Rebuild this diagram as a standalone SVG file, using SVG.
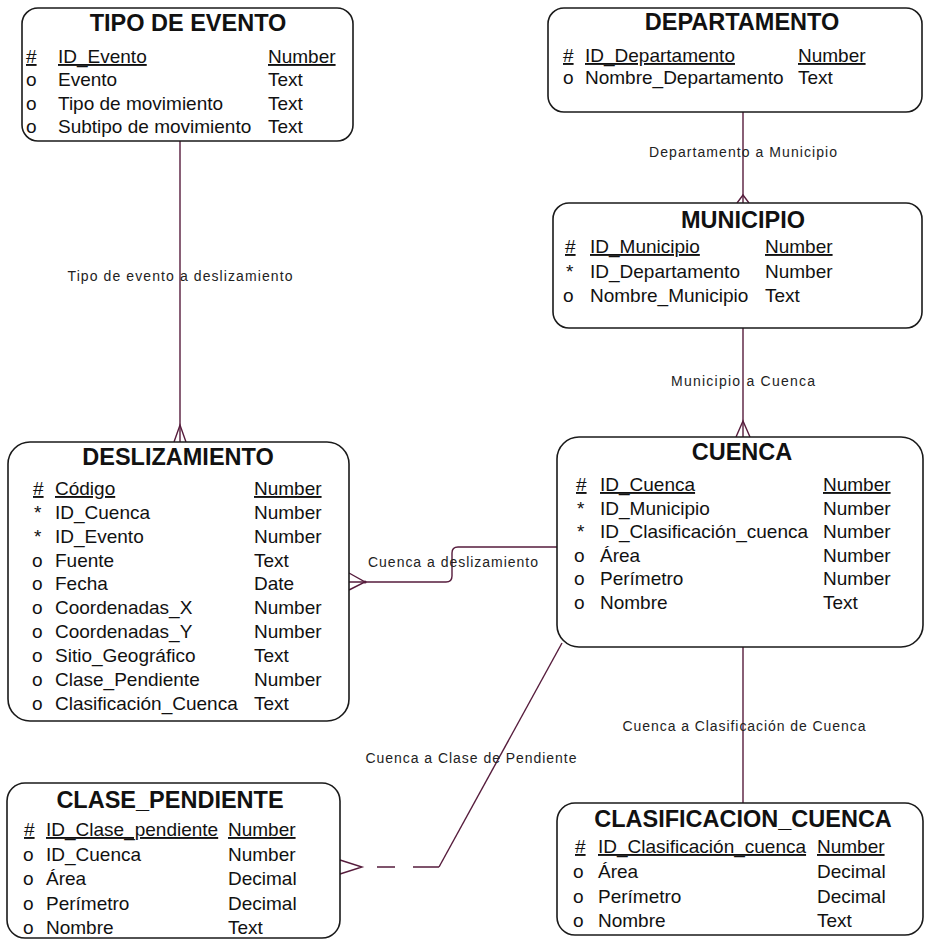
<svg xmlns="http://www.w3.org/2000/svg" width="926" height="941" viewBox="0 0 926 941">
<style>
.bg{fill:#ffffff}
.box{fill:#ffffff;stroke:#1a1a1a;stroke-width:1.6}
.title{font-family:"Liberation Sans",Arial,sans-serif;font-weight:bold;font-size:23.5px;text-anchor:middle;fill:#111}
.row{font-family:"Liberation Sans",Arial,sans-serif;font-size:19px;fill:#111}
.u{text-decoration:underline}
.lbl{font-family:"Liberation Sans",Arial,sans-serif;font-size:14px;text-anchor:middle;fill:#222}
.conn{stroke:#561c3c;stroke-width:1.4;fill:none}
</style>
<rect class="bg" x="0" y="0" width="926" height="941"/>

<g id="connectors">
  <!-- Tipo de evento a deslizamiento -->
  <path class="conn" d="M180,141 V442"/>
  <path class="conn" d="M174,442 L180,425 L186,442"/>
  <!-- Departamento a Municipio -->
  <path class="conn" d="M743,112 V203"/>
  <path class="conn" d="M737,203 L743,195 L749,203"/>
  <!-- Municipio a Cuenca -->
  <path class="conn" d="M743,328 V437"/>
  <path class="conn" d="M736,437 L743,421 L750,437"/>
  <!-- Cuenca a deslizamiento -->
  <path class="conn" d="M349,582 H446 Q452,582 452,576 V553 Q452,547 458,547 H557"/>
  <path class="conn" d="M349,573 L365,582 L349,590"/>
  <circle cx="365" cy="582" r="1.6" fill="#561c3c"/>
  <!-- Cuenca a Clase de Pendiente -->
  <path class="conn" d="M439,867 L562,643"/>
  <path class="conn" d="M439,867 H362" stroke-dasharray="26 18 18 15"/>
  <path class="conn" d="M340,860 L362,867 L340,874"/>
  <!-- Cuenca a Clasificación de Cuenca -->
  <path class="conn" d="M743,647 V803"/>
</g>

<g id="labels">
  <text class="lbl" x="180" y="281" textLength="225">Tipo de evento a deslizamiento</text>
  <text class="lbl" x="743" y="157" textLength="188">Departamento a Municipio</text>
  <text class="lbl" x="743" y="386" textLength="144">Municipio a Cuenca</text>
  <text class="lbl" x="453" y="567" textLength="170">Cuenca a deslizamiento</text>
  <text class="lbl" x="471" y="763" textLength="211">Cuenca a Clase de Pendiente</text>
  <text class="lbl" x="744" y="731" textLength="243">Cuenca a Clasificación de Cuenca</text>
</g>

<g id="tipo_de_evento">
  <rect class="box" x="22" y="8" width="331" height="133" rx="16"/>
  <text class="title" x="188" y="31">TIPO DE EVENTO</text>
  <text class="row u" x="26" y="63">#</text><text class="row u" x="58" y="63">ID_Evento</text><text class="row u" x="268" y="63">Number</text>
  <text class="row" x="26" y="86">o</text><text class="row" x="58" y="86">Evento</text><text class="row" x="268" y="86">Text</text>
  <text class="row" x="26" y="110">o</text><text class="row" x="58" y="110">Tipo de movimiento</text><text class="row" x="268" y="110">Text</text>
  <text class="row" x="26" y="133">o</text><text class="row" x="58" y="133">Subtipo de movimiento</text><text class="row" x="268" y="133">Text</text>
</g>

<g id="departamento">
  <rect class="box" x="548" y="8" width="374" height="104" rx="16"/>
  <text class="title" x="742" y="30">DEPARTAMENTO</text>
  <text class="row u" x="563" y="62">#</text><text class="row u" x="585" y="62">ID_Departamento</text><text class="row u" x="798" y="62">Number</text>
  <text class="row" x="563" y="84">o</text><text class="row" x="585" y="84">Nombre_Departamento</text><text class="row" x="798" y="84">Text</text>
</g>

<g id="municipio">
  <rect class="box" x="553" y="203" width="369" height="125" rx="16"/>
  <text class="title" x="743" y="228">MUNICIPIO</text>
  <text class="row u" x="565" y="253">#</text><text class="row u" x="590" y="253">ID_Municipio</text><text class="row u" x="765" y="253">Number</text>
  <text class="row" x="566" y="278">*</text><text class="row" x="590" y="278">ID_Departamento</text><text class="row" x="765" y="278">Number</text>
  <text class="row" x="563" y="302">o</text><text class="row" x="590" y="302">Nombre_Municipio</text><text class="row" x="765" y="302">Text</text>
</g>

<g id="cuenca">
  <rect class="box" x="557" y="437" width="366" height="210" rx="22"/>
  <text class="title" x="742" y="460">CUENCA</text>
  <text class="row u" x="576" y="491">#</text><text class="row u" x="600" y="491">ID_Cuenca</text><text class="row u" x="823" y="491">Number</text>
  <text class="row" x="577" y="515">*</text><text class="row" x="600" y="515">ID_Municipio</text><text class="row" x="823" y="515">Number</text>
  <text class="row" x="577" y="538">*</text><text class="row" x="600" y="538">ID_Clasificación_cuenca</text><text class="row" x="823" y="538">Number</text>
  <text class="row" x="574" y="562">o</text><text class="row" x="600" y="562">Área</text><text class="row" x="823" y="562">Number</text>
  <text class="row" x="574" y="585">o</text><text class="row" x="600" y="585">Perímetro</text><text class="row" x="823" y="585">Number</text>
  <text class="row" x="574" y="609">o</text><text class="row" x="600" y="609">Nombre</text><text class="row" x="823" y="609">Text</text>
</g>

<g id="deslizamiento">
  <rect class="box" x="8" y="442" width="341" height="279" rx="22"/>
  <text class="title" x="178" y="465">DESLIZAMIENTO</text>
  <text class="row u" x="33" y="495">#</text><text class="row u" x="55" y="495">Código</text><text class="row u" x="254" y="495">Number</text>
  <text class="row" x="34" y="519">*</text><text class="row" x="55" y="519">ID_Cuenca</text><text class="row" x="254" y="519">Number</text>
  <text class="row" x="34" y="543">*</text><text class="row" x="55" y="543">ID_Evento</text><text class="row" x="254" y="543">Number</text>
  <text class="row" x="32" y="567">o</text><text class="row" x="55" y="567">Fuente</text><text class="row" x="254" y="567">Text</text>
  <text class="row" x="32" y="590">o</text><text class="row" x="55" y="590">Fecha</text><text class="row" x="254" y="590">Date</text>
  <text class="row" x="32" y="614">o</text><text class="row" x="55" y="614">Coordenadas_X</text><text class="row" x="254" y="614">Number</text>
  <text class="row" x="32" y="638">o</text><text class="row" x="55" y="638">Coordenadas_Y</text><text class="row" x="254" y="638">Number</text>
  <text class="row" x="32" y="662">o</text><text class="row" x="55" y="662">Sitio_Geográfico</text><text class="row" x="254" y="662">Text</text>
  <text class="row" x="32" y="686">o</text><text class="row" x="55" y="686">Clase_Pendiente</text><text class="row" x="254" y="686">Number</text>
  <text class="row" x="32" y="710">o</text><text class="row" x="55" y="710">Clasificación_Cuenca</text><text class="row" x="254" y="710">Text</text>
</g>

<g id="clase_pendiente">
  <rect class="box" x="7" y="783" width="333" height="155" rx="18"/>
  <text class="title" x="170" y="808">CLASE_PENDIENTE</text>
  <text class="row u" x="24" y="836">#</text><text class="row u" x="46" y="836">ID_Clase_pendiente</text><text class="row u" x="228" y="836">Number</text>
  <text class="row" x="23" y="861">o</text><text class="row" x="46" y="861">ID_Cuenca</text><text class="row" x="228" y="861">Number</text>
  <text class="row" x="23" y="885">o</text><text class="row" x="46" y="885">Área</text><text class="row" x="228" y="885">Decimal</text>
  <text class="row" x="23" y="910">o</text><text class="row" x="46" y="910">Perímetro</text><text class="row" x="228" y="910">Decimal</text>
  <text class="row" x="23" y="934">o</text><text class="row" x="46" y="934">Nombre</text><text class="row" x="228" y="934">Text</text>
</g>

<g id="clasificacion_cuenca">
  <rect class="box" x="557" y="803" width="366" height="132" rx="18"/>
  <text class="title" x="743" y="827">CLASIFICACION_CUENCA</text>
  <text class="row u" x="575" y="853">#</text><text class="row u" x="598" y="853">ID_Clasificación_cuenca</text><text class="row u" x="817" y="853">Number</text>
  <text class="row" x="573" y="878">o</text><text class="row" x="598" y="878">Área</text><text class="row" x="817" y="878">Decimal</text>
  <text class="row" x="573" y="903">o</text><text class="row" x="598" y="903">Perímetro</text><text class="row" x="817" y="903">Decimal</text>
  <text class="row" x="573" y="927">o</text><text class="row" x="598" y="927">Nombre</text><text class="row" x="817" y="927">Text</text>
</g>
</svg>
